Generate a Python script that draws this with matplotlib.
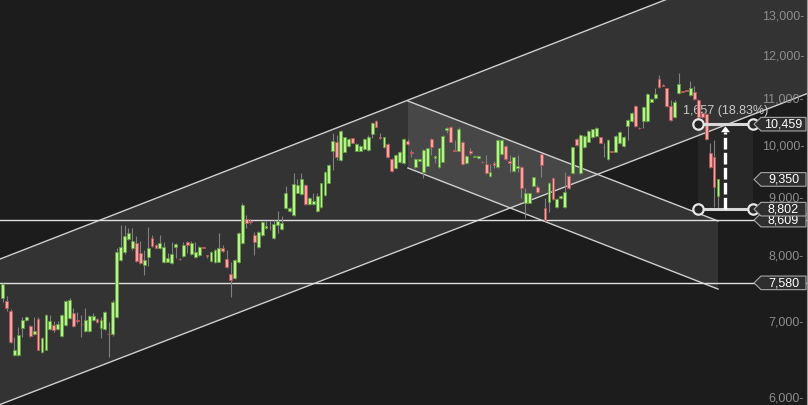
import numpy as np
import matplotlib
matplotlib.use("Agg")
import matplotlib.pyplot as plt
from matplotlib.patches import Polygon
from matplotlib.transforms import IdentityTransform, blended_transform_factory

# daily candles
opens = [7354, 7305, 7159, 6547, 6547, 6920, 7033, 6943, 6837, 7043,
         6591, 6618, 6902, 6958, 6902, 6810, 6958, 7062, 7130, 7025,
         6978, 6874, 6874, 7025, 7043, 6920, 6902, 6833, 6833, 7076,
         7939, 8065, 8285, 8140, 8213, 8049, 7860, 7992, 8306, 8185,
         8140, 7912, 7912, 7896, 8156, 7960, 8009, 8229, 8037, 7992,
         8020, 8150, 8015, 7928, 7902, 7912, 8140, 7955, 7713, 7659,
         7905, 8213, 8628, 8590, 8353, 8147, 8353, 8467, 8495, 8306,
         8524, 8450, 8817, 8770, 8693, 9101, 9072, 9245, 8890, 8890,
         8775, 8846, 9053, 9288, 9911, 10087, 9726, 9891, 10000, 10163,
         9911, 9911, 9939, 9925, 10253, 10520, 10190, 9986, 10047, 9739,
         9562, 9681, 9668, 10114, 9890, 9591, 9713, 9497, 9614, 10142,
         9766, 9583, 9693, 10336, 10392, 9925, 9911, 10081, 9672, 9911,
         9790, 9760, 9693, 9648, 9415, 9673, 9583, 9840, 10006, 9706,
         9511, 9577, 9583, 8918, 8918, 9232, 9200, 9845, 8817, 8937,
         9371, 8846, 8998, 8835, 9414, 9467, 10142, 9478, 9979, 10093,
         10190, 10205, 10183, 9995, 9739, 9895, 9891, 10061, 10006, 10420,
         10523, 10855, 10380, 10523, 10523, 10944, 11030, 11456, 11325, 11249,
         10852, 10612, 11150, 11180, 11200, 11100, 11172, 10985, 10700, 10680,
         9860, 9792, 9040]
highs = [7578, 7384, 7188, 6795, 6934, 7076, 7090, 6957, 7076, 7076,
         6790, 7115, 7101, 7015, 7015, 7115, 7320, 7354, 7197, 7149,
         7101, 7197, 7100, 7126, 7060, 7076, 7155, 7005, 7320, 8135,
         8524, 8524, 8467, 8467, 8339, 8251, 8102, 8490, 8350, 8200,
         8350, 8230, 8049, 8240, 8218, 7975, 8240, 8245, 8251, 8240,
         8170, 8160, 8025, 8080, 8115, 8382, 8185, 8102, 7912, 7955,
         8400, 8913, 8700, 8620, 8409, 8420, 8600, 8600, 8600, 8611,
         8770, 8680, 9226, 8845, 9478, 9352, 9478, 9260, 9028, 9090,
         9101, 9288, 9510, 9645, 10267, 10232, 10330, 10200, 10160, 10180,
         10060, 10020, 10160, 10232, 10500, 10545, 10267, 10200, 10060, 9760,
         9840, 9905, 10160, 10140, 9925, 9760, 9770, 9945, 9975, 10160,
         9820, 9975, 10230, 10390, 10410, 10128, 10392, 10100, 9830, 9959,
         9815, 9820, 9705, 9826, 9648, 9713, 10145, 10145, 10020, 9826,
         9795, 9826, 9600, 9182, 9105, 9405, 9245, 9860, 8998, 9300,
         9389, 8995, 9055, 9497, 9430, 9995, 10160, 10250, 10225, 10340,
         10365, 10390, 10200, 10060, 10145, 9905, 10225, 10320, 10210, 10565,
         10725, 10875, 10390, 10845, 11140, 11030, 11255, 11556, 11340, 11265,
         10985, 10985, 11600, 11190, 11215, 11425, 11300, 11000, 10750, 10700,
         10061, 10128, 9360]
lows = [7291, 7159, 6714, 6534, 6534, 6795, 7020, 6795, 6819, 6614,
        6580, 6610, 6888, 6865, 6888, 6795, 6943, 7048, 6934, 6982,
        6795, 6860, 6860, 7010, 6990, 6781, 6888, 6525, 6810, 7060,
        7920, 8030, 8270, 8102, 7910, 7870, 7702, 7848, 8160, 8130,
        8125, 7895, 7900, 7880, 7966, 7940, 7995, 8049, 8020, 7975,
        8005, 8130, 7966, 7915, 7890, 7900, 8075, 7815, 7369, 7640,
        7890, 8200, 8472, 8545, 8020, 8130, 8340, 8450, 8438, 8290,
        8382, 8440, 8800, 8760, 8680, 9090, 9060, 8875, 8880, 8880,
        8760, 8830, 9040, 9275, 9530, 9726, 9710, 9875, 9985, 10060,
        9900, 9900, 9925, 9910, 10170, 10390, 10142, 9970, 9765, 9500,
        9545, 9665, 9650, 10030, 9792, 9575, 9700, 9377, 9600, 9826,
        9660, 9570, 9680, 10273, 10080, 9900, 9900, 9630, 9655, 9826,
        9780, 9745, 9665, 9450, 9400, 9563, 9570, 9825, 9720, 9497,
        9495, 9497, 8998, 8651, 8905, 9220, 9105, 9389, 8595, 8757,
        8965, 8830, 8985, 8820, 9165, 9450, 10010, 9460, 9965, 10080,
        10175, 10190, 10060, 9792, 9725, 9880, 9875, 10045, 9990, 10128,
        10505, 10405, 10365, 10375, 10505, 10930, 11015, 11255, 11295, 10835,
        10530, 10595, 11130, 11160, 11180, 11085, 10985, 10580, 10590, 10125,
        9565, 8846, 8802]
closes = [7558, 7207, 6727, 6614, 6819, 7029, 7072, 6810, 6874, 6618,
          6777, 7101, 7015, 6884, 6968, 7101, 7305, 7324, 6948, 7022,
          6975, 7025, 7082, 7082, 7005, 7025, 7140, 6830, 7286, 8074,
          8156, 8339, 8387, 8251, 7928, 7887, 7939, 8130, 8173, 8140,
          8218, 8156, 7966, 8033, 8196, 7955, 8185, 8185, 8213, 8074,
          8156, 8140, 8005, 8065, 8102, 8130, 8090, 7831, 7629, 7939,
          8387, 8877, 8559, 8575, 8240, 8399, 8582, 8505, 8490, 8542,
          8599, 8553, 9090, 8828, 9258, 9245, 9358, 8890, 8998, 8949,
          9046, 9277, 9492, 9628, 10108, 9779, 10309, 10183, 10142, 10073,
          10047, 10006, 10148, 10196, 10478, 10406, 10180, 10183, 9779, 9517,
          9826, 9891, 10142, 10047, 9870, 9739, 9752, 9925, 9959, 9979,
          9806, 9959, 10209, 10371, 10093, 9915, 10350, 9648, 9812, 9872,
          9800, 9806, 9680, 9467, 9497, 9634, 10128, 10128, 9739, 9661,
          9779, 9609, 9182, 9090, 9090, 9389, 9120, 9628, 8611, 9288,
          8980, 8980, 9040, 9120, 9182, 9979, 10026, 10230, 10209, 10320,
          10350, 10371, 10073, 9979, 10128, 9890, 10209, 10300, 10196, 10548,
          10706, 10420, 10375, 10826, 11122, 11015, 11122, 11273, 11310, 10852,
          10548, 10948, 11348, 11170, 11190, 11249, 11000, 10620, 10620, 10142,
          9583, 9213, 9350]

# drawn objects (bar index, price)
asc_x = [-0.687, 204.9]
asc_upper = [7955, 15067]
asc_lower = [5922, 11136]
desc_x = [103.1, 182.0]
desc_upper = [10963, 8594]
desc_lower = [9569, 7485]
hlines = [8609, 7580]
measure_x = [176.9, 190.9]
measure_hi, measure_lo = 10459, 8802
last_price = 9350
yticks = [6000, 7000, 8000, 9000, 10000, 11000, 12000, 13000]

BG = "#1d1c1c"
plt.rcParams["font.family"] = ["Liberation Sans", "DejaVu Sans"]

fig = plt.figure(figsize=(8.08, 4.05), dpi=100, facecolor=BG)
ax = fig.add_axes([0, 0, 1, 1])
ax.set_yscale("log")
ax.set_xlim(-0.687, 204.9)
ax.set_ylim(5916, 13456)
ax.axis("off")

# channels
ax.fill([asc_x[0], asc_x[1], asc_x[1], asc_x[0]],
        [asc_upper[0], asc_upper[1], asc_lower[1], asc_lower[0]],
        color="white", alpha=0.1, lw=0, zorder=1)
ax.plot(asc_x, asc_upper, color="#cfcfcf", lw=1.0, zorder=2)
ax.plot(asc_x, asc_lower, color="#cfcfcf", lw=1.0, zorder=2)
ax.fill([desc_x[0], desc_x[1], desc_x[1], desc_x[0]],
        [desc_upper[0], desc_upper[1], desc_lower[1], desc_lower[0]],
        color="white", alpha=0.1, lw=0, zorder=1)
ax.plot(desc_x, desc_upper, color="#cfcfcf", lw=1.0, zorder=2)
ax.plot(desc_x, desc_lower, color="#cfcfcf", lw=1.0, zorder=2)

for h in hlines:
    ax.axhline(h, color="#e0e0e0", lw=1.0, zorder=2)

# candles
o = np.array(opens, float)
c = np.array(closes, float)
x = np.arange(len(o))
up = c >= o
ax.vlines(x, lows, highs, color="#808080", lw=0.8, zorder=3)
bot = np.minimum(o, c)
hgt = np.maximum(np.abs(c - o), 4)
ax.bar(x[up], hgt[up], bottom=bot[up], width=0.72, color="#b8f28c",
       edgecolor="#5f9a3c", lw=0.6, zorder=4)
ax.bar(x[~up], hgt[~up], bottom=bot[~up], width=0.72, color="#f3a5a5",
       edgecolor="#b85454", lw=0.6, zorder=4)

# measurement tool
ax.fill([measure_x[0], measure_x[1], measure_x[1], measure_x[0]],
        [measure_hi, measure_hi, measure_lo, measure_lo],
        color="white", alpha=0.05, lw=0, zorder=1)
for p in (measure_hi, measure_lo):
    ax.plot(measure_x, [p, p], color="#d8d8d8", lw=2.2, zorder=5,
            solid_capstyle="butt")
    ax.plot(measure_x, [p, p], ls="none", marker="o", ms=7.5, mew=1.6,
            mec="#e6e6e6", mfc="#262626", zorder=6)

ident = IdentityTransform()
xa = (measure_x[0] + measure_x[1]) / 2
xd, ylo = ax.transData.transform((xa, measure_lo))
_, yhi = ax.transData.transform((xa, measure_hi))
ax.plot([xd, xd], [ylo, yhi - 8], transform=ident, color="white", lw=2.4,
        ls=(0, (3.5, 1.0)), zorder=6)
ax.add_patch(Polygon([(xd - 4.5, yhi - 8), (xd + 4.5, yhi - 8), (xd, yhi - 2)],
                     closed=True, transform=ident, fc="white", ec="none", zorder=6))
diff = measure_hi - measure_lo
ax.text(xd, yhi + 13, f"{diff:,} ({diff / measure_lo * 100:.2f}%)",
        transform=ident, ha="center", va="center", fontsize=9,
        color="#c8c8c8", zorder=3.5)

# y axis labels
blend = blended_transform_factory(ax.transAxes, ax.transData)
for v in yticks:
    ax.text(0.995, v, f"{v:,}-", transform=blend, ha="right", va="center",
            fontsize=9, color="#8c8c8c", zorder=7)

# price labels on the right
W = fig.bbox.width


def price_label(price):
    _, yd = ax.transData.transform((0, price))
    xr = W - 2
    xt = xr - 52
    hh = 6.8
    verts = [(xt, yd), (xt + 7, yd + hh), (xr, yd + hh), (xr, yd - hh), (xt + 7, yd - hh)]
    ax.add_patch(Polygon(verts, closed=True, transform=ident, fc="#2e2e2e",
                         ec="#a8a8a8", lw=0.8, zorder=8, clip_on=False))
    ax.text((xt + 7 + xr) / 2, yd - 0.5, f"{price:,}", transform=ident,
            ha="center", va="center", fontsize=9, color="white", zorder=8)


for p in [measure_hi, last_price, hlines[0], measure_lo, hlines[1]]:
    price_label(p)

ax.plot([W - 1.5, W - 1.5], [0, fig.bbox.height], transform=ident,
        color="#9a9a9a", lw=0.8, zorder=9)

fig.savefig("out.png", dpi=100, facecolor=BG)
